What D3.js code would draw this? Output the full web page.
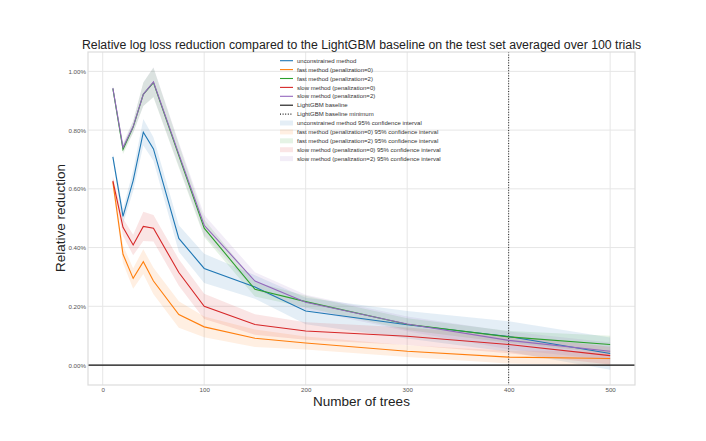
<!DOCTYPE html>
<html>
<head>
<meta charset="utf-8">
<script src="https://cdn.jsdelivr.net/npm/d3@7"></script>
<style>
  body { margin: 0; background: #fff; }
  svg { font-family: "Liberation Sans", Arial, sans-serif; }
</style>
</head>
<body>
<svg id="chart" width="706" height="441"></svg>
<script>
// Number of trees on the x axis
const trees = [10, 20, 30, 40, 50, 75, 100, 150, 200, 300, 400, 500];

// Mean relative reduction (%) for every method
const unconstrained = [0.709, 0.506, 0.628, 0.793, 0.736, 0.431, 0.329, 0.266, 0.184, 0.137, 0.097, 0.039];
const fastPen0 = [0.623, 0.377, 0.295, 0.352, 0.286, 0.172, 0.130, 0.091, 0.075, 0.047, 0.027, 0.022];
const fastPen2 = [0.941, 0.734, 0.810, 0.922, 0.962, 0.713, 0.466, 0.258, 0.216, 0.139, 0.096, 0.070];
const slowPen0 = [0.627, 0.469, 0.409, 0.472, 0.466, 0.315, 0.200, 0.138, 0.116, 0.098, 0.070, 0.032];
const slowPen2 = [0.943, 0.741, 0.812, 0.922, 0.964, 0.718, 0.476, 0.286, 0.214, 0.140, 0.084, 0.047];

// Half width of the 95% confidence intervals (%)
const unconstrainedCI = [0.012, 0.025, 0.035, 0.045, 0.040, 0.045, 0.050, 0.040, 0.045, 0.047, 0.052, 0.055];
const fastPen0CI = [0.015, 0.030, 0.035, 0.042, 0.045, 0.045, 0.035, 0.030, 0.022, 0.020, 0.022, 0.025];
const fastPen2CI = [0.010, 0.015, 0.020, 0.040, 0.050, 0.040, 0.030, 0.025, 0.020, 0.020, 0.020, 0.030];
const slowPen0CI = [0.015, 0.030, 0.035, 0.050, 0.045, 0.045, 0.043, 0.035, 0.030, 0.030, 0.030, 0.030];
const slowPen2CI = [0.010, 0.015, 0.020, 0.040, 0.050, 0.040, 0.035, 0.030, 0.025, 0.025, 0.030, 0.030];

const seriesNames = ["unconstrained method", "fast method (penalization=0)", "fast method (penalization=2)",
                     "slow method (penalization=0)", "slow method (penalization=2)"];
const xTicks = [0, 100, 200, 300, 400, 500];
const yTicks = [0, 0.2, 0.4, 0.6, 0.8, 1.0];
const baselineMinimum = 400;

const colors = ["#1f77b4", "#ff7f0e", "#2ca02c", "#d62728", "#9467bd"];
const series = [
  { name: seriesNames[0], values: unconstrained, ci: unconstrainedCI, color: colors[0] },
  { name: seriesNames[1], values: fastPen0, ci: fastPen0CI, color: colors[1] },
  { name: seriesNames[2], values: fastPen2, ci: fastPen2CI, color: colors[2] },
  { name: seriesNames[3], values: slowPen0, ci: slowPen0CI, color: colors[3] },
  { name: seriesNames[4], values: slowPen2, ci: slowPen2CI, color: colors[4] }
];

const margin = { top: 52, right: 71, bottom: 56, left: 88 };
const width = 706 - margin.left - margin.right;
const height = 441 - margin.top - margin.bottom;

const svg = d3.select("#chart");
const g = svg.append("g").attr("transform", `translate(${margin.left},${margin.top})`);

const x = d3.scaleLinear().domain([-14.5, 524.5]).range([0, width]);
const y = d3.scaleLinear().domain([-0.068, 1.066]).range([height, 0]);

// grid
g.append("g").selectAll("line").data(xTicks).join("line")
  .attr("x1", d => x(d)).attr("x2", d => x(d)).attr("y1", 0).attr("y2", height)
  .attr("stroke", "#e6e6e6").attr("stroke-width", 1);
g.append("g").selectAll("line").data(yTicks).join("line")
  .attr("x1", 0).attr("x2", width).attr("y1", d => y(d)).attr("y2", d => y(d))
  .attr("stroke", "#e6e6e6").attr("stroke-width", 1);

// confidence bands
const area = d3.area()
  .x((d, i) => x(trees[i]))
  .y0(d => y(d[0]))
  .y1(d => y(d[1]));

series.forEach(s => {
  const band = s.values.map((v, i) => [v - s.ci[i], v + s.ci[i]]);
  g.append("path")
    .datum(band)
    .attr("d", area)
    .attr("fill", s.color)
    .attr("fill-opacity", 0.12)
    .attr("stroke", "none");
});

// baseline at zero
g.append("line")
  .attr("x1", 0).attr("x2", width).attr("y1", y(0)).attr("y2", y(0))
  .attr("stroke", "#111").attr("stroke-width", 1.2);

// baseline minimum
g.append("line")
  .attr("x1", x(baselineMinimum)).attr("x2", x(baselineMinimum)).attr("y1", 0).attr("y2", height)
  .attr("stroke", "#222").attr("stroke-width", 1).attr("stroke-dasharray", "1,1.6");

// lines
const line = d3.line()
  .x((d, i) => x(trees[i]))
  .y(d => y(d));

series.forEach(s => {
  g.append("path")
    .datum(s.values)
    .attr("d", line)
    .attr("fill", "none")
    .attr("stroke", s.color)
    .attr("stroke-width", 1.1);
});

// frame
g.append("rect")
  .attr("x", 0).attr("y", 0).attr("width", width).attr("height", height)
  .attr("fill", "none").attr("stroke", "#dcdcdc").attr("stroke-width", 1.2);

// axes
const xAxis = g.append("g")
  .attr("transform", `translate(0,${height})`)
  .call(d3.axisBottom(x).tickValues(xTicks).tickSize(0).tickPadding(3).tickFormat(d3.format("d")));
const yAxis = g.append("g")
  .call(d3.axisLeft(y).tickValues(yTicks).tickSize(0).tickPadding(2).tickFormat(d => d.toFixed(2) + "%"));
[xAxis, yAxis].forEach(a => {
  a.select(".domain").remove();
  a.selectAll("text").attr("font-size", 6.2).attr("fill", "#555")
    .attr("font-family", "Liberation Sans, Arial, sans-serif");
});

// title and axis labels
svg.append("text")
  .attr("x", margin.left + width / 2).attr("y", 48.5)
  .attr("text-anchor", "middle").attr("font-size", 12.3).attr("fill", "#222")
  .text("Relative log loss reduction compared to the LightGBM baseline on the test set averaged over 100 trials");
svg.append("text")
  .attr("x", margin.left + width / 2).attr("y", 406)
  .attr("text-anchor", "middle").attr("font-size", 13.5).attr("fill", "#222")
  .text("Number of trees");
svg.append("text")
  .attr("transform", `translate(65,218) rotate(-90)`)
  .attr("text-anchor", "middle").attr("font-size", 13.5).attr("fill", "#222")
  .text("Relative reduction");

// legend
const legendItems = [
  ...series.map(s => ({ type: "line", color: s.color, label: s.name })),
  { type: "line", color: "#111", label: "LightGBM baseline" },
  { type: "dot", color: "#222", label: "LightGBM baseline minimum" },
  ...series.map(s => ({ type: "patch", color: s.color, label: s.name + " 95% confidence interval" }))
];
const legend = svg.append("g").attr("transform", "translate(280,60.7)");
legendItems.forEach((item, i) => {
  const row = legend.append("g").attr("transform", `translate(0,${i * 8.9})`);
  if (item.type === "patch") {
    row.append("rect").attr("x", 0).attr("y", -2.5).attr("width", 13).attr("height", 5)
      .attr("fill", item.color).attr("fill-opacity", 0.12);
  } else {
    row.append("line").attr("x1", 0).attr("x2", 13).attr("y1", 0).attr("y2", 0)
      .attr("stroke", item.color).attr("stroke-width", 1.1)
      .attr("stroke-dasharray", item.type === "dot" ? "1,1.6" : null);
  }
  row.append("text").attr("x", 17).attr("y", 2.1)
    .attr("font-size", 6).attr("fill", "#333").text(item.label);
});
</script>
</body>
</html>
